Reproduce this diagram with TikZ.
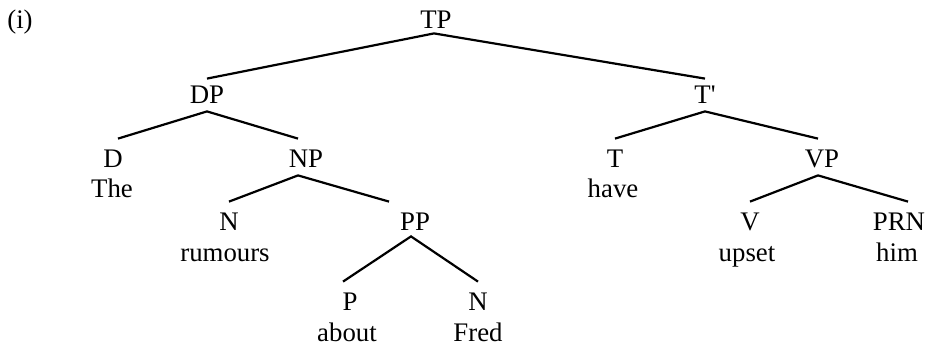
\documentclass[tikz,border=0pt]{standalone}
\usepackage{fontspec}
\setmainfont{Liberation Serif}
\usepackage{tikz}
\newcommand*{\WordRow}[2]{% #1 = list of name/x/text, #2 = baseline y
\foreach \nm/\x/\txt in {#1} {
\node [word] (\nm) at (\x,#2) {\txt};
}%
}

\begin{document}
\begin{tikzpicture}[x=0.5pt,y=-0.5pt,
    font=\fontsize{13.4}{16}\selectfont,
    cat/.style={anchor=base, text height=10pt, text depth=0pt, inner xsep=0pt, inner ysep=4pt},
    word/.style={anchor=base, inner sep=0pt},
    branch/.style={line width=1.1pt, line join=miter}]

            \useasboundingbox (0,0) rectangle (929,344);
            \node [word] (ex) at (20,28) {(i)};
            % categories
            \node [cat] (tp) at (436,28) {TP};
            \node [cat] (dp) at (207,103) {DP};
            \node [cat] (tbar) at (705,103) {T\textquotesingle};
            \node [cat] (d) at (113,167) {D};
            \node [cat] (np) at (306,167) {NP};
            \node [cat] (t) at (615,167) {T};
            \node [cat] (vp) at (822,167) {VP};
            \node [cat] (n1) at (229,230) {N};
            \node [cat] (pp) at (415,230) {PP};
            \node [cat] (v) at (750,230) {V};
            \node [cat] (prn) at (899,230) {PRN};
            \node [cat] (p) at (350,310) {P};
            \node [cat] (n2) at (478,310) {N};
            % words
            \WordRow{the/112/{The},have/613/{have}}{197}
            \WordRow{rumours/225/{rumours},upset/747/{upset},him/897/{him}}{261}
            \WordRow{about/347/{about},fred/478/{Fred}}{341}
            % branches
            \draw [branch] ([yshift=-2pt]dp.north) -- ([xshift=-1pt,yshift=1.5pt]tp.south) -- ([yshift=-2pt]tbar.north);
            \draw [branch] ([xshift=2.5pt]d.north) -- (dp.south) -- ([xshift=-4pt]np.north);
            \draw [branch] (n1.north) -- ([xshift=-4pt]np.south) -- ([xshift=-13pt]pp.north);
            \draw [branch] ([xshift=-3.5pt]p.north) -- ([xshift=-2pt,yshift=1pt]pp.south) -- (n2.north);
            \draw [branch] (t.north) -- (tbar.south) -- ([xshift=-2pt]vp.north);
            \draw [branch] (v.north) -- ([xshift=-2pt]vp.south) -- ([xshift=4.5pt]prn.north);
        \end{tikzpicture}
\end{document}
